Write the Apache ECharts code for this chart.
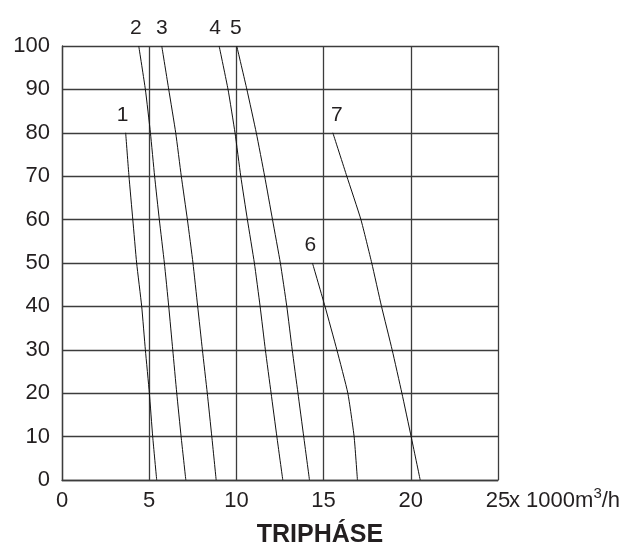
<!DOCTYPE html>
<html>
<head>
<meta charset="utf-8">
<script src="https://cdn.jsdelivr.net/npm/echarts@6/dist/echarts.min.js"></script>
<style>html,body{margin:0;padding:0;background:#fff}#c{width:629px;height:546px}</style>
</head>
<body>
<div id="c"></div>
<script>
const xTicks = [0, 5, 10, 15, 20, 25];
const yTicks = [0, 10, 20, 30, 40, 50, 60, 70, 80, 90, 100];
const curveNames = ['1', '2', '3', '4', '5', '6', '7'];
// each curve: [flow (x1000 m3/h), head]
const curve1 = [[3.65,80],[3.84,70],[4.06,60],[4.28,50],[4.57,40],[4.78,30],[5.01,20],[5.20,10],[5.43,0]];
const curve2 = [[4.40,100],[4.78,90],[5.07,80],[5.31,70],[5.58,60],[5.87,50],[6.12,40],[6.35,30],[6.58,20],[6.83,10],[7.10,0]];
const curve3 = [[5.72,100],[6.12,90],[6.52,80],[6.84,70],[7.19,60],[7.51,50],[7.78,40],[8.05,30],[8.33,20],[8.59,10],[8.84,0]];
const curve4 = [[9.01,100],[9.52,90],[9.92,80],[10.25,70],[10.63,60],[11.03,50],[11.36,40],[11.66,30],[11.99,20],[12.32,10],[12.66,0]];
const curve5 = [[10.02,100],[10.60,90],[11.14,80],[11.62,70],[12.07,60],[12.52,50],[12.89,40],[13.20,30],[13.53,20],[13.86,10],[14.19,0]];
const curve6 = [[14.36,50],[15.08,40],[15.76,30],[16.39,20],[16.75,10],[16.94,0]];
const curve7 = [[15.53,80],[16.33,70],[17.14,60],[17.76,50],[18.32,40],[18.93,30],[19.49,20],[20.02,10],[20.54,0]];
const curves = [curve1, curve2, curve3, curve4, curve5, curve6, curve7];
const labelShiftX = [-3, -3, 0, -4, -1, -2, 4];
const xUnitPre = 'x 1000m';
const xUnitSup = '3';
const xUnitPost = '/h';
const titleText = 'TRIPHÁSE';

const chart = echarts.init(document.getElementById('c'), null, {renderer: 'canvas'});
const txt = '#231f20';
const gridCol = '#3c3c3c';
const FF = 'Liberation Sans';

const series = curves.map((c, i) => ({
  type: 'line',
  data: c.map((p, j) => j === 0 ? {
    value: p,
    label: {show: true, position: 'top', distance: 7, offset: [labelShiftX[i], 0], formatter: curveNames[i],
      fontSize: 21, color: txt, fontFamily: FF}
  } : {value: p}),
  showSymbol: true,
  symbol: 'circle',
  symbolSize: 0.01,
  itemStyle: {color: 'rgba(0,0,0,0)'},
  smooth: 0.15,
  lineStyle: {color: '#111', width: 1},
  label: {show: false},
  silent: true,
  animation: false,
  z: 5
}));

chart.setOption({
  animation: false,
  backgroundColor: '#fff',
  grid: {left: 62, top: 46, width: 436, height: 434, containLabel: false},
  xAxis: {
    type: 'value', min: 0, max: 25, interval: 5,
    axisLine: {show: true, lineStyle: {color: gridCol, width: 1.3}},
    axisTick: {show: false},
    splitLine: {show: true, lineStyle: {color: gridCol, width: 1.3}},
    axisLabel: {
      margin: 10, fontSize: 22, color: txt, fontFamily: FF,
      formatter: v => xTicks.includes(v) ? String(v) : ''
    }
  },
  yAxis: {
    type: 'value', min: 0, max: 100, interval: 10,
    axisLine: {show: true, lineStyle: {color: gridCol, width: 1.3}},
    axisTick: {show: false},
    splitLine: {show: true, lineStyle: {color: gridCol, width: 1.3}},
    axisLabel: {
      margin: 12, fontSize: 22, color: txt, fontFamily: FF,
      formatter: v => yTicks.includes(v) ? String(v) : ''
    }
  },
  graphic: [
    {
      type: 'text', left: 509, top: 486,
      style: {
        text: '{a|' + xUnitPre + '}{s|' + xUnitSup + '}{a|' + xUnitPost + '}',
        rich: {
          a: {fontSize: 22, fill: txt, fontFamily: FF, verticalAlign: 'bottom', lineHeight: 26},
          s: {fontSize: 15, fill: txt, fontFamily: FF, verticalAlign: 'top', lineHeight: 26, padding: [0,0,12,0]}
        }
      }
    },
    {
      type: 'text', x: 320, y: 535,
      style: {text: titleText, textAlign: 'center', textVerticalAlign: 'middle',
        fontSize: 25, fontWeight: 'bold', fill: txt, fontFamily: FF}
    }
  ],
  series: series
});
</script>
</body>
</html>
